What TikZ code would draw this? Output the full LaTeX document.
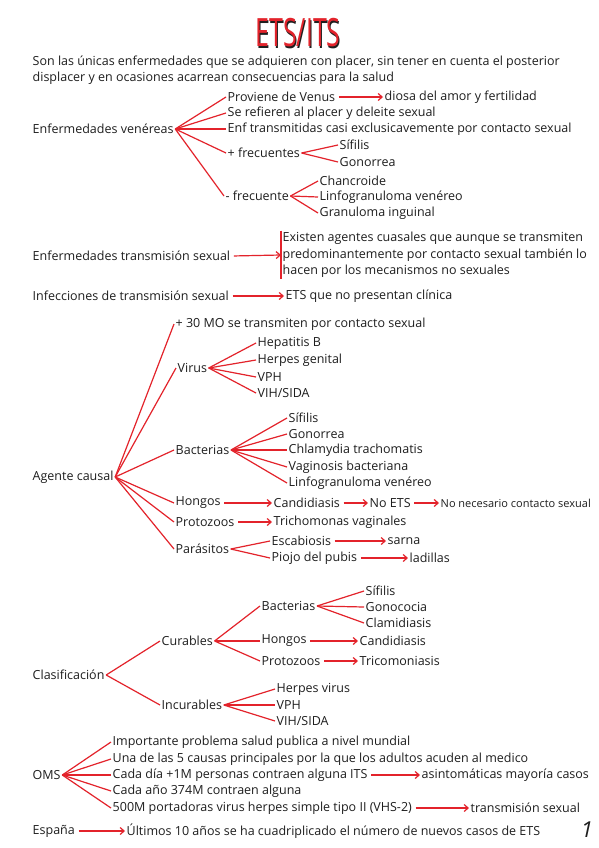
\documentclass[tikz,border=0pt]{standalone}
\usepackage{fontspec}
\setmainfont{Open Sans}
\usetikzlibrary{arrows.meta, positioning}
\definecolor{InkRed}{HTML}{E3232B}
\definecolor{Ink}{HTML}{1E1E1E}

\tikzset{
  lbl/.style={anchor=west, inner sep=1.5pt, text=Ink, font=\fontsize{12.5}{16.5}\selectfont},
  br/.style={draw=InkRed, line width=1.2pt},
  arr/.style={br, shorten <=2pt, -{Straight Barb[length=4pt,width=7pt]}},
}

\begin{document}
\begin{tikzpicture}[x=1pt, y=-1pt]
\fill[white] (0,0) rectangle (599,848);
\useasboundingbox (0,0) rectangle (599,848);

% --- TITLE ---
\node[inner sep=0pt, anchor=base, text depth=0pt] (title) at (298,47) {\fontsize{39}{39}\selectfont\scalebox{0.64}[1]{%
  \rlap{\kern1.6pt\raisebox{-1.6pt}{\color{Ink}ETS/ITS}}\color{InkRed}ETS/ITS}};

% --- INTRO ---
\node[lbl, align=left] (intro) at (31,70) {Son las únicas enfermedades que se adquieren con placer, sin tener en cuenta el posterior\\displacer y en ocasiones acarrean consecuencias para la salud};

% --- ENFERMEDADES VENEREAS ---
\node[lbl] (ev) at (31,129) {Enfermedades venéreas};
\node[lbl] (ev1) at (226,97) {Proviene de Venus};
\node[lbl] (ev1a) at (383,97) {diosa del amor y fertilidad};
\node[lbl] (ev2) at (226,113) {Se refieren al placer y deleite sexual};
\node[lbl] (ev3) at (226,129) {Enf transmitidas casi exclusicavemente por contacto sexual};
\node[lbl] (ev4) at (226,153) {+ frecuentes};
\node[lbl] (ev4a) at (338,145) {Sífilis};
\node[lbl] (ev4b) at (338,162) {Gonorrea};
\node[lbl] (ev5) at (224,196) {- frecuente};
\node[lbl] (ev5a) at (318,181) {Chancroide};
\node[lbl] (ev5b) at (318,197) {Linfogranuloma venéreo};
\node[lbl] (ev5c) at (318,213) {Granuloma inguinal};
\foreach \c in {ev1,ev2,ev3,ev4,ev5}
  \draw[br] (ev.east) -- (\c.west);
\draw[arr] (ev1.east) -- (ev1a.west);
\draw[br] (ev4.east) -- (ev4a.west);
\draw[br] (ev4.east) -- (ev4b.west);
\foreach \c in {ev5a,ev5b,ev5c}
  \draw[br] (ev5.east) -- (\c.west);

% --- ETS / ITS ---
\node[lbl] (ets) at (31,256) {Enfermedades transmisión sexual};
\node[lbl, align=left] (etsd) at (281,255) {Existen agentes cuasales que aunque se transmiten\\predominantemente por contacto sexual también lo\\hacen por los mecanismos no sexuales};
\draw[br] (etsd.north west) -- (etsd.south west);
\draw[arr] (ets.east) -- (etsd.west);
\node[lbl] (its) at (31,296) {Infecciones de transmisión sexual};
\node[lbl] (itsd) at (284,296) {ETS que no presentan clínica};
\draw[arr] (its.east) -- (itsd.west);

% --- AGENTE CAUSAL ---
\node[lbl] (ac) at (31,477) {Agente causal};
\node[lbl] (ac1) at (174,324) {+ 30 MO se transmiten por contacto sexual};
\node[lbl] (ac2) at (176,368) {Virus};
\node[lbl] (ac3) at (174,450) {Bacterias};
\node[lbl] (ac4) at (174,503) {Hongos};
\node[lbl] (ac5) at (174,522) {Protozoos};
\node[lbl] (ac6) at (174,549) {Parásitos};
\foreach \c in {ac1,ac2,ac3,ac4,ac5,ac6}
  \draw[br] (ac.east) -- (\c.west);
% virus
\node[lbl] (vi1) at (256,343) {Hepatitis B};
\node[lbl] (vi2) at (256,360) {Herpes genital};
\node[lbl] (vi3) at (256,377) {VPH};
\node[lbl] (vi4) at (256,393) {VIH/SIDA};
\foreach \c in {vi1,vi2,vi3,vi4}
  \draw[br] (ac2.east) -- (\c.west);
% bacterias
\node[lbl] (ba1) at (287,418) {Sífilis};
\node[lbl] (ba2) at (287,434) {Gonorrea};
\node[lbl] (ba3) at (287,450) {Chlamydia trachomatis};
\node[lbl] (ba4) at (287,467) {Vaginosis bacteriana};
\node[lbl] (ba5) at (287,483) {Linfogranuloma venéreo};
\foreach \c in {ba1,ba2,ba3,ba4,ba5}
  \draw[br] (ac3.east) -- (\c.west);
% hongos, protozoos, parasitos
\node[lbl] (ho1) at (272,503) {Candidiasis};
\node[lbl] (ho2) at (368,503) {No ETS};
\node[lbl] (ho3) at (439,503) {\fontsize{11}{14}\selectfont No necesario contacto sexual};
\draw[arr] (ac4.east) -- (ho1.west);
\draw[arr] (ho1.east) -- (ho2.west);
\draw[arr] (ho2.east) -- (ho3.west);
\node[lbl] (pr1) at (272,522) {Trichomonas vaginales};
\draw[arr] (ac5.east) -- (pr1.west);
\node[lbl] (pa1) at (270,541) {Escabiosis};
\node[lbl] (pa1a) at (386,541) {sarna};
\node[lbl] (pa2) at (270,558) {Piojo del pubis};
\node[lbl] (pa2a) at (408,558) {ladillas};
\draw[br] (ac6.east) -- (pa1.west);
\draw[br] (ac6.east) -- (pa2.west);
\draw[arr] (pa1.east) -- (pa1a.west);
\draw[arr] (pa2.east) -- (pa2a.west);

% --- CLASIFICACION ---
\node[lbl] (cl) at (31,675) {Clasificación};
\node[lbl] (cu) at (160,641) {Curables};
\node[lbl] (in) at (160,705) {Incurables};
\draw[br] (cl.east) -- (cu.west);
\draw[br] (cl.east) -- (in.west);
\node[lbl] (cb) at (260,606) {Bacterias};
\node[lbl] (ch) at (260,641) {Hongos};
\node[lbl] (cp) at (260,661) {Protozoos};
\foreach \c in {cb,ch,cp}
  \draw[br] (cu.east) -- (\c.west);
\node[lbl] (cb1) at (364,591) {Sífilis};
\node[lbl] (cb2) at (364,607) {Gonococia};
\node[lbl] (cb3) at (364,623) {Clamidiasis};
\foreach \c in {cb1,cb2,cb3}
  \draw[br] (cb.east) -- (\c.west);
\node[lbl] (ch1) at (358,641) {Candidiasis};
\node[lbl] (cp1) at (358,661) {Tricomoniasis};
\draw[arr] (ch.east) -- (ch1.west);
\draw[arr] (cp.east) -- (cp1.west);
\node[lbl] (in1) at (275,689) {Herpes virus};
\node[lbl] (in2) at (275,705) {VPH};
\node[lbl] (in3) at (275,721) {VIH/SIDA};
\foreach \c in {in1,in2,in3}
  \draw[br] (in.east) -- (\c.west);

% --- OMS ---
\node[lbl] (om) at (31,775) {OMS};
\node[lbl] (om1) at (111,742) {Importante problema salud publica a nivel mundial};
\node[lbl] (om2) at (111,759) {Una de las 5 causas principales por la que los adultos acuden al medico};
\node[lbl] (om3) at (111,775) {Cada día +1M personas contraen alguna ITS};
\node[lbl] (om4) at (111,791) {Cada año 374M contraen alguna};
\node[lbl] (om5) at (111,808) {500M portadoras virus herpes simple tipo II (VHS-2)};
\foreach \c in {om1,om2,om3,om4,om5}
  \draw[br] (om.east) -- (\c.west);
\node[lbl] (om3a) at (420,775) {asintomáticas mayoría casos};
\node[lbl] (om5a) at (469,808) {transmisión sexual};
\draw[arr] (om3.east) -- (om3a.west);
\draw[arr] (om5.east) -- (om5a.west);

% --- ESPAÑA ---
\node[lbl] (es) at (31,831) {España};
\node[lbl] (es1) at (125,831) {Últimos 10 años se ha cuadriplicado el número de nuevos casos de ETS};
\draw[arr] (es.east) -- (es1.west);

\node[text=Ink] (pagenum) at (587,830) {\fontsize{22}{22}\selectfont\itshape 1};

\end{tikzpicture}
\end{document}
